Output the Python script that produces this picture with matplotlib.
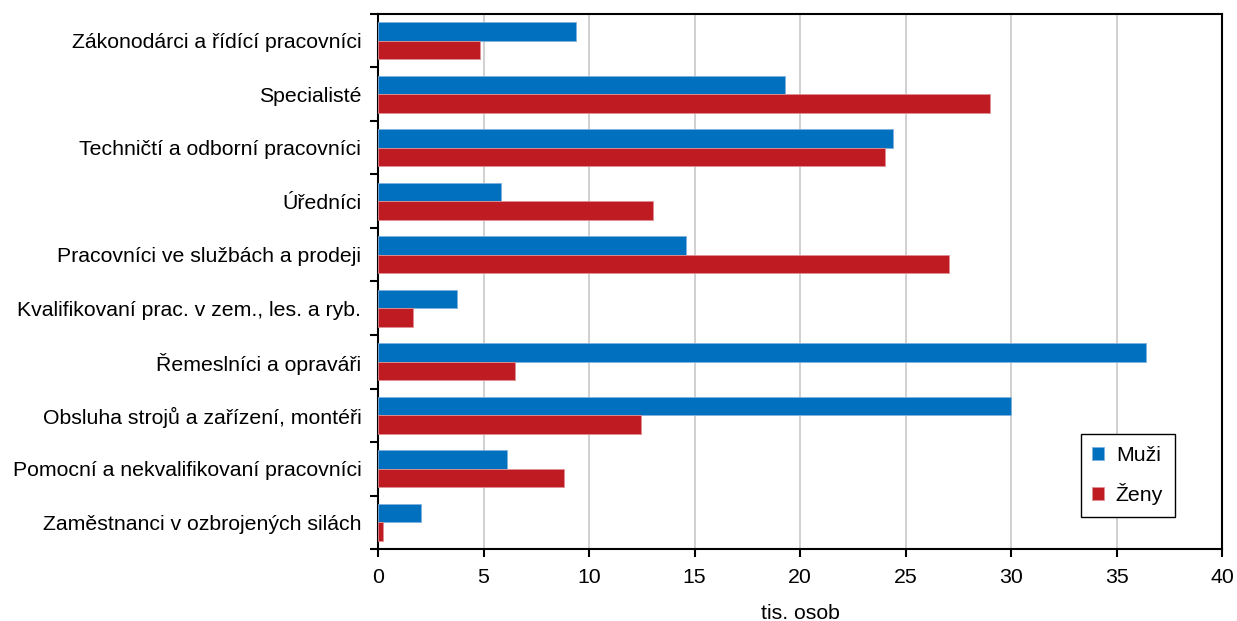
import numpy as np
import matplotlib
matplotlib.use('Agg')
import matplotlib.pyplot as plt
from matplotlib.ticker import FixedLocator

plt.rcParams['font.family'] = ['Liberation Sans', 'DejaVu Sans']
plt.rcParams['font.size'] = 15.3

categories = ['Zákonodárci a řídící pracovníci', 'Specialisté',
              'Techničtí a odborní pracovníci', 'Úředníci',
              'Pracovníci ve službách a prodeji',
              'Kvalifikovaní prac. v zem., les. a ryb.',
              'Řemeslníci a opraváři', 'Obsluha strojů a zařízení, montéři',
              'Pomocní a nekvalifikovaní pracovníci',
              'Zaměstnanci v ozbrojených silách']
muzi = [9.4, 19.3, 24.4, 5.85, 14.6, 3.75, 36.4, 30.0, 6.1, 2.05]
zeny = [4.85, 29.0, 24.05, 13.05, 27.05, 1.65, 6.5, 12.45, 8.8, 0.25]
xticks = [0, 5, 10, 15, 20, 25, 30, 35, 40]

blue = '#0070BF'
red = '#BE1B23'

fig = plt.figure(figsize=(12.37, 6.21), dpi=100)
ax = fig.add_axes([0.3056, 0.1159, 0.6823, 0.8616])

y = np.arange(len(categories))
h = 0.35
ax.barh(y - h/2, muzi, height=h, color=blue, edgecolor='#7FB3DD',
        linewidth=0.6, label='Muži', zorder=3)
ax.barh(y + h/2, zeny, height=h, color=red, edgecolor='#E09095',
        linewidth=0.6, label='Ženy', zorder=3)

ax.set_xlim(0, 40)
ax.set_ylim(len(categories) - 0.5, -0.5)
ax.set_xticks(xticks)
ax.xaxis.grid(True, color='#C8C8C8', linewidth=1.2, zorder=0)

# category boundaries carry the tick marks, centres carry the labels
ax.yaxis.set_major_locator(FixedLocator(np.arange(-0.5, len(categories), 1.0)))
ax.set_yticklabels([])
ax.yaxis.set_minor_locator(FixedLocator(y))
ax.set_yticks(y, categories, minor=True)
ax.tick_params(axis='y', which='minor', length=0, pad=12)
ax.tick_params(axis='y', which='major', length=6, width=1.5, direction='out')
ax.tick_params(axis='x', length=6, width=1.5, direction='out', pad=8)

for s in ax.spines.values():
    s.set_linewidth(1.5)

ax.set_xlabel('tis. osob', labelpad=12)

leg = ax.legend(loc='lower right', bbox_to_anchor=(0.944, 0.06), borderaxespad=0,
                fancybox=False, edgecolor='black', framealpha=1,
                handlelength=0.55, handleheight=0.55, labelspacing=0.85,
                borderpad=0.55, handletextpad=0.55)
leg.get_frame().set_linewidth(1.0)

fig.savefig('out.png', dpi=100)
